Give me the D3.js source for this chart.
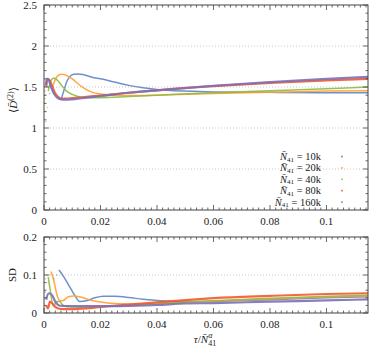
<!DOCTYPE html>
<html>
<head>
<meta charset="utf-8">
<script src="https://cdn.jsdelivr.net/npm/d3@7"></script>
<style>
  body { margin: 0; background: #fff; }
</style>
</head>
<body>
<div id="chart"></div>
<script>
// series labels and colours
var seriesNames = ["10k", "20k", "40k", "80k", "160k"];
var seriesColors = ["#5e84c5", "#ff9e30", "#8fba43", "#f4592c", "#7b70b8"];

// tick labels
var xTicks = [0, 0.02, 0.04, 0.06, 0.08, 0.1];
var yTicksTop = [0, 0.5, 1, 1.5, 2, 2.5];
var yTicksBottom = [0, 0.1, 0.2];

// top panel: <D^(2)> vs tau / N^alpha
var blueT = [0.0048, 0.0058, 0.007, 0.008, 0.009, 0.0105, 0.012, 0.014, 0.017, 0.02, 0.025, 0.03, 0.035, 0.04, 0.05, 0.06, 0.08, 0.1, 0.115];
var blueD = [1.37, 1.35, 1.45, 1.56, 1.62, 1.655, 1.66, 1.65, 1.62, 1.6, 1.56, 1.52, 1.49, 1.47, 1.45, 1.44, 1.435, 1.43, 1.43];
var orangeT = [0.003, 0.004, 0.005, 0.0065, 0.008, 0.01, 0.012, 0.014, 0.016, 0.02, 0.025, 0.03, 0.04, 0.06, 0.08, 0.1, 0.115];
var orangeD = [1.5, 1.59, 1.64, 1.655, 1.64, 1.6, 1.54, 1.49, 1.45, 1.415, 1.4, 1.395, 1.4, 1.42, 1.435, 1.45, 1.455];
var greenT = [0.0015, 0.0025, 0.0035, 0.0045, 0.006, 0.008, 0.01, 0.012, 0.015, 0.02, 0.03, 0.04, 0.06, 0.08, 0.1, 0.115];
var greenD = [1.45, 1.58, 1.61, 1.59, 1.53, 1.45, 1.41, 1.385, 1.37, 1.37, 1.385, 1.4, 1.43, 1.455, 1.48, 1.5];
var redT = [0.0008, 0.0013, 0.002, 0.003, 0.004, 0.005, 0.006, 0.008, 0.01, 0.015, 0.02, 0.03, 0.04, 0.06, 0.08, 0.1, 0.115];
var redD = [1.5, 1.6, 1.58, 1.5, 1.42, 1.38, 1.36, 1.36, 1.365, 1.38, 1.395, 1.43, 1.46, 1.51, 1.55, 1.58, 1.6];
var purpleT = [0.0006, 0.001, 0.0016, 0.0025, 0.0035, 0.0045, 0.006, 0.008, 0.01, 0.015, 0.02, 0.03, 0.04, 0.06, 0.08, 0.1, 0.115];
var purpleD = [1.52, 1.6, 1.59, 1.5, 1.42, 1.375, 1.35, 1.345, 1.35, 1.37, 1.39, 1.43, 1.46, 1.515, 1.56, 1.6, 1.625];

// bottom panel: SD
var blueSdT = [0.0053, 0.007, 0.009, 0.011, 0.0127, 0.015, 0.018, 0.021, 0.025, 0.03, 0.035, 0.04, 0.05, 0.06, 0.08, 0.1, 0.115];
var blueSd = [0.113, 0.095, 0.07, 0.045, 0.03, 0.032, 0.04, 0.044, 0.044, 0.041, 0.036, 0.033, 0.03, 0.031, 0.035, 0.04, 0.043];
var orangeSdT = [0.0025, 0.0035, 0.0045, 0.0055, 0.0065, 0.0085, 0.0105, 0.013, 0.016, 0.02, 0.025, 0.03, 0.04, 0.06, 0.08, 0.1, 0.115];
var orangeSd = [0.109, 0.085, 0.05, 0.033, 0.032, 0.042, 0.045, 0.042, 0.035, 0.029, 0.025, 0.024, 0.025, 0.031, 0.037, 0.042, 0.045];
var greenSdT = [0.0015, 0.0022, 0.0033, 0.0045, 0.0055, 0.0065, 0.008, 0.012, 0.02, 0.03, 0.04, 0.06, 0.08, 0.1, 0.115];
var greenSd = [0.095, 0.06, 0.018, 0.03, 0.03, 0.022, 0.017, 0.015, 0.017, 0.02, 0.024, 0.032, 0.039, 0.044, 0.047];
var redSdT = [0.0008, 0.0014, 0.0021, 0.003, 0.004, 0.005, 0.007, 0.01, 0.015, 0.02, 0.03, 0.04, 0.05, 0.06, 0.08, 0.1, 0.115];
var redSd = [0.02, 0.012, 0.03, 0.025, 0.016, 0.012, 0.01, 0.01, 0.012, 0.016, 0.022, 0.028, 0.034, 0.039, 0.045, 0.05, 0.052];
var purpleSdT = [0.0008, 0.0014, 0.0021, 0.003, 0.004, 0.0057, 0.008, 0.012, 0.02, 0.03, 0.04, 0.05, 0.06, 0.08, 0.1, 0.115];
var purpleSd = [0.035, 0.05, 0.052, 0.045, 0.03, 0.019, 0.018, 0.018, 0.018, 0.019, 0.021, 0.025, 0.026, 0.03, 0.033, 0.036];

// scattered early points (series index, tau, value)
var earlyTopS = [1, 2, 2, 2, 1, 0, 3, 4];
var earlyTopT = [0.0003, 0.0004, 0.0005, 0.0006, 0.0012, 0.002, 0.0004, 0.0003];
var earlyTopD = [1.3, 1.36, 1.2, 1.08, 1.25, 1.42, 1.4, 1.45];
var earlyBotS = [1, 1, 2, 2, 3, 4, 0, 0];
var earlyBotT = [0.0015, 0.002, 0.0005, 0.001, 0.0004, 0.0004, 0.0035, 0.0045];
var earlyBotD = [0.08, 0.1, 0.09, 0.1, 0.055, 0.04, 0.09, 0.1];

var topT = [blueT, orangeT, greenT, redT, purpleT];
var topD = [blueD, orangeD, greenD, redD, purpleD];
var botT = [blueSdT, orangeSdT, greenSdT, redSdT, purpleSdT];
var botD = [blueSd, orangeSd, greenSd, redSd, purpleSd];

var svgWidth = 387;
var svgHeight = 349;

var svg = d3.select("#chart")
  .append("svg")
  .attr("width", svgWidth)
  .attr("height", svgHeight)
  .attr("font-family", "'Liberation Serif', 'DejaVu Serif', serif")
  .attr("fill", "#222");

var x = d3.scaleLinear().domain([0, 0.1147]).range([44, 368]);
var fmt = d3.format("~g");

function drawPanel(y, majorY, minorStep, tList, dList, eS, eT, eD, yTop, yBot) {
  var g = svg.append("g");

  // dotted grid
  g.selectAll(".grid")
    .data(majorY.filter(function(v) { return v > y.domain()[0] && v < y.domain()[1]; }))
    .enter().append("line")
    .attr("x1", 44).attr("x2", 368)
    .attr("y1", d => y(d)).attr("y2", d => y(d))
    .attr("stroke", "#bbb")
    .attr("stroke-width", 0.8)
    .attr("stroke-dasharray", "1,2");

  // curves
  var clipId = "clip" + yTop;
  g.append("clipPath").attr("id", clipId)
    .append("rect").attr("x", 44).attr("y", yTop).attr("width", 324).attr("height", yBot - yTop);

  var line = d3.line()
    .x(d => x(d[0]))
    .y(d => y(d[1]))
    .curve(d3.curveMonotoneX);

  tList.forEach(function(ts, i) {
    var pts = ts.map(function(t, j) { return [t, dList[i][j]]; });
    g.append("path")
      .attr("clip-path", "url(#" + clipId + ")")
      .attr("d", line(pts))
      .attr("fill", "none")
      .attr("stroke", seriesColors[i])
      .attr("stroke-width", i >= 3 ? 2.2 : 1.5)
      .attr("stroke-opacity", 0.9);
  });

  g.selectAll(".early")
    .data(eS)
    .enter().append("circle")
    .attr("cx", (s, j) => x(eT[j]))
    .attr("cy", (s, j) => y(eD[j]))
    .attr("r", 0.8)
    .attr("fill", s => seriesColors[s])
    .attr("opacity", 0.6);

  // ticks, inward on all four sides
  var minorX = d3.range(0, 0.1147, 0.002);
  var minorY = d3.range(y.domain()[0], y.domain()[1] + 1e-9, minorStep);
  var tk = g.append("g").attr("stroke", "#444").attr("stroke-width", 0.8);
  minorX.forEach(function(t) {
    var big = Math.abs(t / 0.02 - Math.round(t / 0.02)) < 1e-6;
    var len = big ? 5 : 2.5;
    tk.append("line").attr("x1", x(t)).attr("x2", x(t)).attr("y1", yBot).attr("y2", yBot - len);
    tk.append("line").attr("x1", x(t)).attr("x2", x(t)).attr("y1", yTop).attr("y2", yTop + len);
  });
  minorY.forEach(function(v) {
    var big = majorY.some(m => Math.abs(m - v) < 1e-6);
    var len = big ? 5 : 2.5;
    tk.append("line").attr("x1", 44).attr("x2", 44 + len).attr("y1", y(v)).attr("y2", y(v));
    tk.append("line").attr("x1", 368).attr("x2", 368 - len).attr("y1", y(v)).attr("y2", y(v));
  });

  // frame
  g.append("rect")
    .attr("x", 44).attr("y", yTop)
    .attr("width", 324).attr("height", yBot - yTop)
    .attr("fill", "none")
    .attr("stroke", "#444")
    .attr("stroke-width", 1);

  // tick labels
  g.selectAll(".ylab")
    .data(majorY)
    .enter().append("text")
    .attr("x", 37)
    .attr("y", d => y(d) + 4)
    .attr("text-anchor", "end")
    .style("font-size", "11px")
    .text(d => fmt(d));

  g.selectAll(".xlab")
    .data(xTicks)
    .enter().append("text")
    .attr("x", d => x(d))
    .attr("y", yBot + 15)
    .attr("text-anchor", "middle")
    .style("font-size", "11px")
    .text(d => fmt(d));
}

var yTopScale = d3.scaleLinear().domain([0, 2.5]).range([210, 5]);
var yBotScale = d3.scaleLinear().domain([0, 0.2]).range([313, 237]);

drawPanel(yTopScale, yTicksTop, 0.1, topT, topD, earlyTopS, earlyTopT, earlyTopD, 5, 210);
drawPanel(yBotScale, yTicksBottom, 0.02, botT, botD, earlyBotS, earlyBotT, earlyBotD, 237, 313);

// legend
var legend = svg.append("g");
seriesNames.forEach(function(name, i) {
  var yy = 160 + i * 11.4;
  var t = legend.append("text")
    .attr("x", 321)
    .attr("y", yy)
    .attr("text-anchor", "end")
    .style("font-size", "10.5px");
  t.append("tspan").style("font-style", "italic").text("N\u0304");
  t.append("tspan").attr("dy", 1.5).style("font-size", "7px").text("41");
  t.append("tspan").attr("dy", -1.5).text(" = " + name);
  legend.append("circle")
    .attr("cx", 342).attr("cy", yy - 3.5)
    .attr("r", 0.9)
    .attr("fill", seriesColors[i]);
});

// axis titles
var yl = svg.append("text")
  .attr("transform", "translate(17, 100) rotate(-90)")
  .attr("text-anchor", "middle")
  .style("font-size", "11px");
yl.append("tspan").text("\u27e8");
yl.append("tspan").style("font-style", "italic").text("D\u0304");
yl.append("tspan").attr("dy", -4).style("font-size", "8px").text("(2)");
yl.append("tspan").attr("dy", 4).text("\u27e9");

svg.append("text")
  .attr("transform", "translate(16, 275) rotate(-90)")
  .attr("text-anchor", "middle")
  .style("font-size", "11px")
  .text("SD");

var xl = svg.append("text")
  .attr("x", 205)
  .attr("y", 343)
  .attr("text-anchor", "middle")
  .style("font-size", "11px");
xl.append("tspan").style("font-style", "italic").text("\u03c4");
xl.append("tspan").text("/");
xl.append("tspan").style("font-style", "italic").text("N\u0304");
xl.append("tspan").attr("dy", 3).style("font-size", "8px").text("41");
xl.append("tspan").attr("dy", -8).attr("dx", -8).style("font-size", "8px").style("font-style", "italic").text("\u03b1");
</script>
</body>
</html>
